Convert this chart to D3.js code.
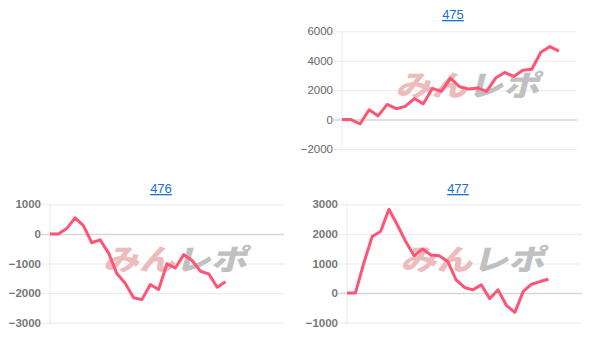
<!DOCTYPE html>
<html>
<head>
<meta charset="utf-8">
<script src="https://cdn.jsdelivr.net/npm/d3@7"></script>
<style>
  body { margin: 0; background: #fff; }
  svg { display: block; }
  .tick text { font-family: "Liberation Sans", Arial, sans-serif; }
  .title { font-family: "Liberation Sans", Arial, sans-serif; font-size: 13px; fill: #1a6fd0; text-decoration: underline; }
</style>
</head>
<body>
<div id="chart"></div>
<script>
// Data: one series per machine, x = day slot, y = coin difference
const days475 = ["1","2","3","4","5","6","7","8","9","10","11","12","13","14","15","16","17","18","19","20","21","22","23","24","25","26","27"];
const values475 = [0, 0, -300, 670, 250, 1030, 740, 900, 1430, 1070, 2120, 1920, 2820, 2230, 2080, 2150, 1920, 2820, 3200, 2930, 3350, 3420, 4580, 4960, 4650];

const days476 = ["1","2","3","4","5","6","7","8","9","10","11","12","13","14","15","16","17","18","19","20","21","22","23","24","25","26","27","28","29"];
const values476 = [0, 0, 180, 540, 280, -300, -200, -640, -1340, -1670, -2160, -2220, -1710, -1880, -1010, -1150, -700, -900, -1260, -1350, -1800, -1620];

const days477 = ["1","2","3","4","5","6","7","8","9","10","11","12","13","14","15","16","17","18","19","20","21","22","23","24","25","26","27","28","29"];
const values477 = [0, 0, 1010, 1910, 2080, 2830, 2300, 1740, 1260, 1490, 1290, 1260, 1070, 450, 190, 110, 280, -190, 110, -420, -650, 60, 300, 390, 470];

const yTicks475 = [-2000, 0, 2000, 4000, 6000];
const yTicks476 = [-3000, -2000, -1000, 0, 1000];
const yTicks477 = [-1000, 0, 1000, 2000, 3000];

const W = 608, H = 351;
const lineColor = "#ff5575";

const svg = d3.select("#chart")
    .append("svg")
    .attr("width", W)
    .attr("height", H);

svg.append("rect").attr("width", W).attr("height", H).attr("fill", "#fff");

const panels = [
    {name: "475", days: days475, values: values475, ticks: yTicks475,
     x0: 342, x1: 577, yTop: 31.3, yBot: 149, titleX: 453, titleY: 19, bold: false},
    {name: "476", days: days476, values: values476, ticks: yTicks476,
     x0: 50, x1: 284, yTop: 204.3, yBot: 322.7, titleX: 161, titleY: 193, bold: true},
    {name: "477", days: days477, values: values477, ticks: yTicks477,
     x0: 347, x1: 582, yTop: 204.3, yBot: 322.7, titleX: 458, titleY: 193, bold: true}
];

panels.forEach(p => {
    const g = svg.append("g");

    const x = d3.scalePoint()
        .domain(p.days)
        .range([p.x0, p.x1]);

    const y = d3.scaleLinear()
        .domain(d3.extent(p.ticks))
        .range([p.yBot, p.yTop]);

    // Title link
    g.append("text")
        .attr("class", "title")
        .attr("x", p.titleX)
        .attr("y", p.titleY)
        .attr("text-anchor", "middle")
        .text(p.name);

    // Y axis with gridlines
    const axis = g.append("g")
        .attr("transform", `translate(${p.x0},0)`)
        .call(d3.axisLeft(y)
            .tickValues(p.ticks)
            .tickSize(-(p.x1 - p.x0))
            .tickPadding(10)
            .tickFormat(d3.format("d")));
    axis.select(".domain").remove();
    axis.selectAll(".tick line")
        .attr("x1", -9)
        .attr("stroke", d => d === 0 ? "#d6d6d6" : "#ebebeb")
        .attr("stroke-width", d => d === 0 ? 1.5 : 1);
    axis.selectAll(".tick text")
        .attr("x", -9)
        .attr("fill", p.bold ? "#777" : "#666")
        .style("font-size", "11.5px")
        .style("font-weight", p.bold ? "bold" : "normal");

    // Left axis line
    g.append("line")
        .attr("x1", p.x0).attr("x2", p.x0)
        .attr("y1", p.yTop).attr("y2", p.yBot + 2)
        .attr("stroke", "#ebebeb");

    // Watermark
    const cx = (p.x0 + p.x1) / 2 + 8;
    const cy = (p.yTop + p.yBot) / 2 + 6;
    const wm = g.append("g")
        .attr("transform", `translate(${cx},${cy}) skewX(-14)`)
        .style("font-family", "'Noto Sans CJK JP', sans-serif")
        .style("font-weight", "900")
        .style("font-size", "29px");
    wm.append("text")
        .attr("x", -72).attr("y", 0)
        .attr("fill", "#ecbcbc")
        .attr("textLength", 72)
        .attr("lengthAdjust", "spacingAndGlyphs")
        .text("みん");
    wm.append("text")
        .attr("x", 0).attr("y", 0)
        .attr("fill", "#c0c0c0")
        .attr("textLength", 72)
        .attr("lengthAdjust", "spacingAndGlyphs")
        .text("レポ");

    // Series line
    const line = d3.line()
        .x((d, i) => x(p.days[i]))
        .y(d => y(d));

    g.append("path")
        .datum(p.values)
        .attr("fill", "none")
        .attr("stroke", lineColor)
        .attr("stroke-width", 3)
        .attr("stroke-linejoin", "round")
        .attr("d", line);
});
</script>
</body>
</html>
